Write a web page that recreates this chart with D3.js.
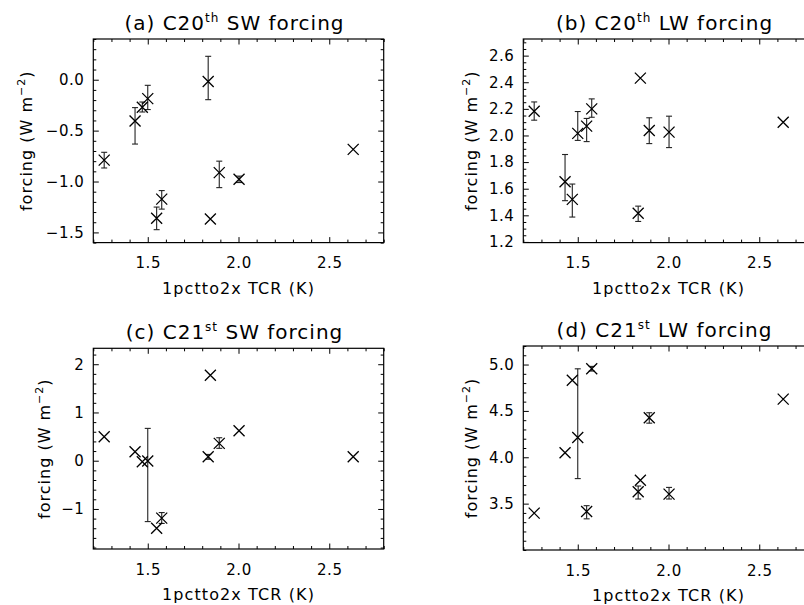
<!DOCTYPE html>
<html><head><meta charset="utf-8">
<script src="https://cdn.jsdelivr.net/npm/d3@7"></script>
<style>
body{margin:0;background:#fff}
text{font-family:"DejaVu Sans",sans-serif;fill:#000}
</style>
</head><body><svg id="c" width="804" height="605"></svg>
<script>
// Transient climate response (x) shared by all panels
const tcr = [1.26, 1.43, 1.47, 1.50, 1.549, 1.577, 1.833, 1.845, 1.894, 2.003, 2.632];

// (a) C20th SW forcing
const swC20   = [-0.79, -0.405, -0.27, -0.186, -1.36, -1.173, -0.017, -1.369, -0.913, -0.978, -0.684];
const swC20Lo = [-0.867, -0.632, -0.317, -0.293, -1.473, -1.271, -0.196, null, -1.06, -1.01, null];
const swC20Hi = [-0.713, -0.274, -0.219, -0.055, -1.251, -1.089, 0.23, null, -0.80, -0.947, null];

// (b) C20th LW forcing
const lwC20   = [2.182, 1.652, 1.52, 2.016, 2.07, 2.2, 1.416, 2.431, 2.038, 2.025, 2.1];
const lwC20Lo = [2.115, 1.51, 1.387, 1.963, 1.954, 2.137, 1.354, null, 1.939, 1.909, null];
const lwC20Hi = [2.252, 1.857, 1.635, 2.18, 2.128, 2.275, 1.469, null, 2.133, 2.145, null];

// (c) C21st SW forcing
const swC21   = [0.497, 0.186, -0.02, -0.006, -1.40, -1.19, 0.083, 1.773, 0.36, 0.62, 0.083];
const swC21Lo = [null, null, null, -1.262, null, -1.30, 0.03, null, 0.257, null, null];
const swC21Hi = [null, null, null, 0.67, null, -1.075, 0.13, null, 0.476, null, null];

// (d) C21st LW forcing
const lwC21   = [3.398, 4.048, 4.83, 4.214, 3.415, 4.954, 3.628, 3.753, 4.427, 3.603, 4.627];
const lwC21Lo = [null, null, null, 3.77, 3.336, 4.93, 3.55, null, 4.368, 3.55, null];
const lwC21Hi = [null, null, null, 4.954, 3.478, 4.98, 3.69, null, 4.48, 3.675, null];

// tick values
const xTicks  = [1.5, 2.0, 2.5];
const aYTicks = [-1.5, -1.0, -0.5, 0.0];
const bYTicks = [1.2, 1.4, 1.6, 1.8, 2.0, 2.2, 2.4, 2.6];
const cYTicks = [-1, 0, 1, 2];
const dYTicks = [3.5, 4.0, 4.5, 5.0];

const titles = [
  ["(a) C20", "th", " SW forcing"],
  ["(b) C20", "th", " LW forcing"],
  ["(c) C21", "st", " SW forcing"],
  ["(d) C21", "st", " LW forcing"]
];
const xTitle = "1pctto2x TCR (K)";

const panels = [
  {t:titles[0], v:swC20, lo:swC20Lo, hi:swC20Hi, ydom:[-1.6, 0.4], yt:aYTicks, ymin:0.1, fmt:d3.format(".1f"), L:93.3, T:39, B:242.6, yx:32},
  {t:titles[1], v:lwC20, lo:lwC20Lo, hi:lwC20Hi, ydom:[1.195, 2.725], yt:bYTicks, ymin:0.05, fmt:d3.format(".1f"), L:523.3, T:39, B:242.6, yx:477},
  {t:titles[2], v:swC21, lo:swC21Lo, hi:swC21Hi, ydom:[-1.83, 2.33], yt:cYTicks, ymin:0.2, fmt:d3.format("d"), L:93.3, T:348.3, B:549, yx:50},
  {t:titles[3], v:lwC21, lo:lwC21Lo, hi:lwC21Hi, ydom:[3.0, 5.2], yt:dYTicks, ymin:0.1, fmt:d3.format(".1f"), L:523.3, T:346, B:550, yx:477}
];

const svg = d3.select("#c");
const W = 290.4;
const xdom = [1.2, 2.8];
const MAJ = 5.5, MIN = 3;

function range(a, b, s){ const out=[]; const n=Math.round((b-a)/s); for(let i=0;i<=n;i++) out.push(+(a+i*s).toFixed(4)); return out; }

panels.forEach(p => {
  const H = p.B - p.T;
  const g = svg.append("g").attr("transform", `translate(${p.L},${p.T})`);
  const x = d3.scaleLinear().domain(xdom).range([0, W]);
  const y = d3.scaleLinear().domain(p.ydom).range([H, 0]);

  const xMinor = range(Math.ceil(xdom[0]*10)/10, xdom[1], 0.1).filter(v => !xTicks.some(t => Math.abs(t-v)<1e-6));
  const y0 = Math.ceil(p.ydom[0]/p.ymin - 1e-6)*p.ymin;
  const yMinor = range(y0, p.ydom[1], p.ymin).filter(v => v>=p.ydom[0]-1e-9 && v<=p.ydom[1]+1e-9 && !p.yt.some(t => Math.abs(t-v)<1e-6));

  const style = sel => { sel.select(".domain").remove(); sel.selectAll("line").attr("stroke","#000").attr("stroke-width",1); sel.selectAll("text").style("font-size","15px").style("letter-spacing","0.5px").attr("fill","#111"); };

  // bottom
  g.append("g").attr("transform",`translate(0,${H})`).call(d3.axisBottom(x).tickValues(xTicks).tickSize(-MAJ).tickPadding(15).tickFormat(d3.format(".1f"))).call(style);
  g.append("g").attr("transform",`translate(0,${H})`).call(d3.axisBottom(x).tickValues(xMinor).tickSize(-MIN).tickFormat("")).call(style);
  // top
  g.append("g").call(d3.axisTop(x).tickValues(xTicks).tickSize(-MAJ).tickFormat("")).call(style);
  g.append("g").call(d3.axisTop(x).tickValues(xMinor).tickSize(-MIN).tickFormat("")).call(style);
  // left
  g.append("g").call(d3.axisLeft(y).tickValues(p.yt).tickSize(-MAJ).tickPadding(9).tickFormat(p.fmt)).call(style);
  g.append("g").call(d3.axisLeft(y).tickValues(yMinor).tickSize(-MIN).tickFormat("")).call(style);
  // right
  g.append("g").attr("transform",`translate(${W},0)`).call(d3.axisRight(y).tickValues(p.yt).tickSize(-MAJ).tickFormat("")).call(style);
  g.append("g").attr("transform",`translate(${W},0)`).call(d3.axisRight(y).tickValues(yMinor).tickSize(-MIN).tickFormat("")).call(style);

  g.append("rect").attr("x",0).attr("y",0).attr("width",W).attr("height",H)
    .attr("fill","none").attr("stroke","#000").attr("stroke-width",1.2);

  // error bars
  const idx = d3.range(tcr.length);
  const eb = g.append("g").attr("stroke","#222").attr("stroke-width",1.1);
  idx.filter(i => p.lo[i] != null).forEach(i => {
    const cx = x(tcr[i]);
    eb.append("line").attr("x1",cx).attr("x2",cx).attr("y1",y(p.lo[i])).attr("y2",y(p.hi[i]));
    eb.append("line").attr("x1",cx-3).attr("x2",cx+3).attr("y1",y(p.lo[i])).attr("y2",y(p.lo[i]));
    eb.append("line").attr("x1",cx-3).attr("x2",cx+3).attr("y1",y(p.hi[i])).attr("y2",y(p.hi[i]));
  });

  // X markers
  const s = 5.5;
  const mk = g.append("g").attr("stroke","#000").attr("stroke-width",1.3).attr("fill","none");
  idx.forEach(i => {
    const cx = x(tcr[i]), cy = y(p.v[i]);
    mk.append("path").attr("d",`M${cx-s},${cy-s}L${cx+s},${cy+s}M${cx-s},${cy+s}L${cx+s},${cy-s}`);
  });

  // title
  const tt = g.append("text").attr("x", W/2 - 4).attr("y", -9).attr("text-anchor","middle")
    .style("font-size","20px").style("letter-spacing","1px").attr("fill","#111");
  tt.append("tspan").text(p.t[0]);
  tt.append("tspan").attr("dy",-8).style("font-size","12px").text(p.t[1]);
  tt.append("tspan").attr("dy",8).text(p.t[2]);

  // x title
  g.append("text").attr("x", W/2).attr("y", H + 51).attr("text-anchor","middle")
    .style("font-size","16px").style("letter-spacing","1.1px").attr("fill","#111").text(xTitle);

  // y title
  const yt = g.append("text").attr("transform",`translate(${p.yx - p.L},${H/2}) rotate(-90)`)
    .attr("text-anchor","middle").style("font-size","16px").style("letter-spacing","1px").attr("fill","#111");
  yt.append("tspan").text("forcing (W m");
  yt.append("tspan").attr("dy",-7).style("font-size","11px").text("−2");
  yt.append("tspan").attr("dy",7).text(")");
});
</script>
</body></html>
